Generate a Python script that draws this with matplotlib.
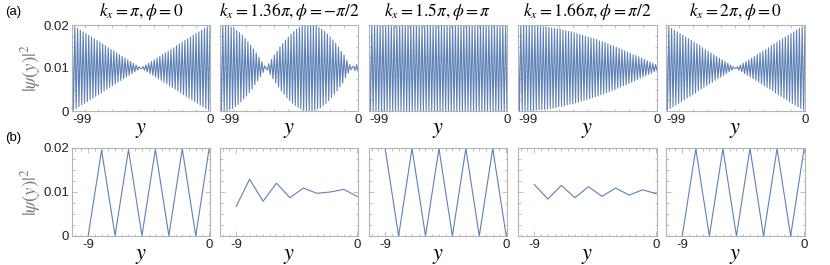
import matplotlib
matplotlib.use('Agg')
import matplotlib.pyplot as plt
from matplotlib.ticker import MultipleLocator

plt.rcParams['mathtext.fontset'] = 'stix'
plt.rcParams['font.family'] = ['Liberation Sans', 'DejaVu Sans']

# ---------------- data ----------------
titles = [r'$k_x=\pi,\phi=0$', r'$k_x=1.36\pi,\phi=-\pi/2$', r'$k_x=1.5\pi,\phi=\pi$',
          r'$k_x=1.66\pi,\phi=\pi/2$', r'$k_x=2\pi,\phi=0$']

y_long = list(range(-99, 1))
y_short = list(range(-9, 1))

top1 = [.0200, .0002, .0196, .0006, .0192, .0010, .0188, .0014, .0184, .0018,
        .0180, .0022, .0176, .0026, .0172, .0030, .0168, .0034, .0164, .0038,
        .0160, .0042, .0156, .0047, .0152, .0051, .0147, .0055, .0143, .0059,
        .0139, .0063, .0135, .0067, .0131, .0071, .0127, .0075, .0123, .0079,
        .0119, .0083, .0115, .0087, .0111, .0091, .0107, .0095, .0103, .0099,
        .0099, .0103, .0095, .0107, .0091, .0111, .0087, .0115, .0083, .0119,
        .0079, .0123, .0075, .0127, .0071, .0131, .0067, .0135, .0063, .0139,
        .0059, .0143, .0055, .0147, .0051, .0152, .0047, .0156, .0042, .0160,
        .0038, .0164, .0034, .0168, .0030, .0172, .0026, .0176, .0022, .0180,
        .0018, .0184, .0014, .0188, .0010, .0192, .0006, .0196, .0002, .0200]

top2 = [.0199, .0000, .0200, .0000, .0199, .0001, .0198, .0003, .0195, .0006,
        .0192, .0010, .0187, .0015, .0182, .0021, .0176, .0028, .0169, .0035,
        .0161, .0043, .0153, .0051, .0144, .0061, .0135, .0070, .0125, .0080,
        .0115, .0090, .0105, .0100, .0095, .0110, .0085, .0120, .0075, .0130,
        .0065, .0139, .0056, .0149, .0047, .0157, .0039, .0165, .0031, .0172,
        .0024, .0179, .0018, .0185, .0013, .0190, .0008, .0194, .0005, .0197,
        .0002, .0199, .0001, .0200, .0000, .0200, .0001, .0199, .0002, .0197,
        .0005, .0194, .0008, .0190, .0013, .0185, .0018, .0179, .0024, .0172,
        .0031, .0165, .0039, .0157, .0047, .0149, .0056, .0139, .0065, .0130,
        .0077, .0118, .0088, .0108, .0096, .0102, .0104, .0094, .0108, .0093]

top3 = [.0200, .0000] * 50

top4 = [.0200, .0000, .0200, .0000, .0200, .0000, .0200, .0001, .0199, .0001,
        .0199, .0001, .0198, .0002, .0198, .0003, .0197, .0003, .0196, .0004,
        .0195, .0005, .0194, .0006, .0193, .0007, .0192, .0008, .0191, .0010,
        .0190, .0011, .0188, .0012, .0187, .0014, .0185, .0016, .0184, .0017,
        .0182, .0019, .0180, .0021, .0178, .0023, .0176, .0025, .0174, .0027,
        .0172, .0029, .0170, .0031, .0168, .0033, .0166, .0035, .0163, .0038,
        .0161, .0040, .0159, .0043, .0156, .0045, .0153, .0048, .0151, .0050,
        .0148, .0053, .0146, .0056, .0143, .0059, .0140, .0061, .0137, .0064,
        .0134, .0067, .0131, .0070, .0129, .0073, .0126, .0076, .0123, .0079,
        .0120, .0082, .0117, .0085, .0114, .0088, .0111, .0091, .0108, .0094]

top5 = [.0200, .0002, .0196, .0006, .0192, .0010, .0188, .0014, .0184, .0018,
        .0180, .0022, .0176, .0026, .0172, .0030, .0168, .0034, .0164, .0038,
        .0160, .0042, .0156, .0047, .0152, .0051, .0147, .0055, .0143, .0059,
        .0139, .0063, .0135, .0067, .0131, .0071, .0127, .0075, .0123, .0079,
        .0119, .0083, .0115, .0087, .0111, .0091, .0107, .0095, .0103, .0099,
        .0099, .0103, .0095, .0107, .0091, .0111, .0087, .0115, .0083, .0119,
        .0079, .0123, .0075, .0127, .0071, .0131, .0067, .0135, .0063, .0139,
        .0059, .0143, .0055, .0147, .0051, .0152, .0047, .0156, .0042, .0160,
        .0038, .0164, .0034, .0168, .0030, .0172, .0026, .0176, .0022, .0180,
        .0018, .0184, .0014, .0188, .0010, .0192, .0006, .0196, .0002, .0200]

bot1 = [.0000, .0195, .0001, .0196, .0001, .0197, .0001, .0198, .0000, .0200]
bot2 = [.0067, .0129, .0079, .0120, .0087, .0109, .0097, .0100, .0106, .0090]
bot3 = [.0199, .0000, .0199, .0000, .0199, .0000, .0199, .0000, .0199, .0000]
bot4 = [.0117, .0084, .0115, .0087, .0112, .0090, .0109, .0093, .0105, .0096]
bot5 = [.0000, .0198, .0000, .0198, .0000, .0199, .0000, .0199, .0000, .0200]

top_series = [top1, top2, top3, top4, top5]
bot_series = [bot1, bot2, bot3, bot4, bot5]

long_ticks = [-99, 0]
long_labels = ['-99', '0']
short_ticks = [-9, 0]
short_labels = ['-9', '0']
y_ticks = [0, 0.01, 0.02]
y_labels = ['0', '0.01', '0.02']

# ---------------- style ----------------
W, H = 830, 265
fig = plt.figure(figsize=(W / 100, H / 100), dpi=100)
line_c = '#5e81b5'
frame_c = '#b4b4b4'
cols = [(72, 210), (220, 358), (369, 507), (518, 657), (666, 805)]
rows = [(25, 111), (148, 236)]


def add_ax(x0, x1, y0, y1):
    return fig.add_axes([x0 / W, 1 - y1 / H, (x1 - x0) / W, (y1 - y0) / H])


def style(ax, first, xt, xl, minor_x, left_first=False):
    for s in ax.spines.values():
        s.set_color(frame_c)
        s.set_linewidth(0.8)
    ax.set_xticks(xt)
    ax.set_xticklabels(xl)
    ax.set_yticks(y_ticks)
    ax.set_yticklabels(y_labels if first else [])
    ax.xaxis.set_minor_locator(MultipleLocator(minor_x))
    ax.yaxis.set_minor_locator(MultipleLocator(0.0025))
    ax.tick_params(which='both', direction='in', top=True, right=True,
                   color=frame_c, width=0.6, labelsize=9.5, labelcolor='#222222')
    ax.tick_params(which='major', length=3.5, pad=2)
    ax.tick_params(which='minor', length=1.8)
    if left_first:
        ax.get_xticklabels()[0].set_horizontalalignment('left')


for j in range(5):
    x0, x1 = cols[j]
    # top row
    ax = add_ax(x0, x1, *rows[0])
    ax.plot(y_long, top_series[j], color=line_c, lw=0.8)
    ax.set_xlim(-99, 0)
    ax.set_ylim(0, 0.02)
    style(ax, j == 0, long_ticks, long_labels, 10, left_first=True)
    cx = (x0 + x1) / 2 / W
    fig.text(cx, 1 - 12 / H, titles[j], ha='center', va='center', fontsize=12.5)
    fig.text(cx, 1 - 129 / H, '$y$', ha='center', va='center', fontsize=16)
    # bottom row
    ax = add_ax(x0, x1, *rows[1])
    ax.plot(y_short, bot_series[j], color=line_c, lw=0.8)
    ax.set_xlim(-10.2, 0.06)
    ax.set_ylim(0, 0.02)
    style(ax, j == 0, short_ticks, short_labels, 0.5)
    fig.text(cx, 1 - 255 / H, '$y$', ha='center', va='center', fontsize=16)

for yc in (68, 192):
    fig.text(31 / W, 1 - yc / H, r'$|\psi(y)|^2$', rotation=90, ha='center',
             va='center', fontsize=13.5, color='#7a7a7a')

fig.text(5 / W, 1 - 12 / H, '(a)', ha='left', va='center', fontsize=9.5)
fig.text(5 / W, 1 - 138 / H, '(b)', ha='left', va='center', fontsize=9.5)

fig.savefig('out.png', dpi=100)
